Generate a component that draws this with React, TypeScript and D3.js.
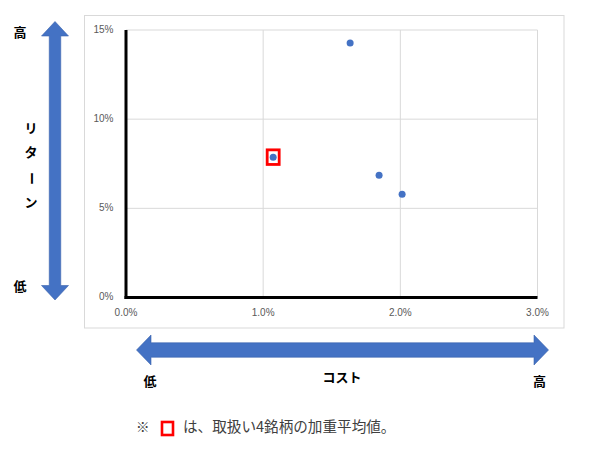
import * as d3 from "d3";

// Cost (%) and return (%) of the individual funds
const costs = [1.634, 1.845, 2.013];
const returns = [14.27, 6.85, 5.79];
// Weighted average of the 4 funds
const avgCost = [1.073];
const avgReturn = [7.87];

const xTicks = [0, 1, 2, 3];
const yTicks = [0, 5, 10, 15];

const W = 612;
const H = 473;
const JP = "'Noto Sans CJK JP', 'Noto Sans', sans-serif";
const BLUE = "#4472C4";

// double-headed block arrow along the x direction
function arrowPath(x1: number, x2: number, cy: number, shaft: number, head: number, headLen: number) {
  const p = d3.path();
  p.moveTo(x1, cy);
  p.lineTo(x1 + headLen, cy - head / 2);
  p.lineTo(x1 + headLen, cy - shaft / 2);
  p.lineTo(x2 - headLen, cy - shaft / 2);
  p.lineTo(x2 - headLen, cy - head / 2);
  p.lineTo(x2, cy);
  p.lineTo(x2 - headLen, cy + head / 2);
  p.lineTo(x2 - headLen, cy + shaft / 2);
  p.lineTo(x1 + headLen, cy + shaft / 2);
  p.lineTo(x1 + headLen, cy + head / 2);
  p.closePath();
  return p.toString();
}

export default function App() {
  const x = d3.scaleLinear().domain([0, 3]).range([126, 537.5]);
  const y = d3.scaleLinear().domain([0, 15]).range([297.5, 30]);
  const pts = costs.map((c, i) => ({ c, r: returns[i] }));

  return (
    <svg
      width={W}
      height={H}
      style={{ position: "absolute", left: 0, top: 0, background: "#fff" }}
    >
      {/* chart box */}
      <rect x={84.5} y={15.5} width={479.5} height={312.5} fill="#fff" stroke="#d9d9d9" />

      {/* grid */}
      {xTicks.map((t) => (
        <line key={"gx" + t} x1={x(t)} x2={x(t)} y1={y(15)} y2={y(0)} stroke="#d9d9d9" />
      ))}
      {yTicks.map((t) => (
        <line key={"gy" + t} x1={x(0)} x2={x(3)} y1={y(t)} y2={y(t)} stroke="#d9d9d9" />
      ))}

      {/* axes */}
      <line x1={x(0)} x2={x(0)} y1={y(15)} y2={y(0) + 1.5} stroke="#000" strokeWidth={3} />
      <line x1={x(0) - 1.5} x2={x(3)} y1={y(0)} y2={y(0)} stroke="#000" strokeWidth={3} />

      {/* tick labels */}
      {yTicks.map((t) => (
        <text
          key={"ty" + t}
          x={113.5}
          y={y(t)}
          textAnchor="end"
          dominantBaseline="middle"
          fontFamily="'Liberation Sans', sans-serif"
          fontSize={10}
          fill="#595959"
        >
          {t}%
        </text>
      ))}
      {xTicks.map((t) => (
        <text
          key={"tx" + t}
          x={x(t)}
          y={313}
          textAnchor="middle"
          dominantBaseline="middle"
          fontFamily="'Liberation Sans', sans-serif"
          fontSize={10}
          fill="#595959"
        >
          {t.toFixed(1)}%
        </text>
      ))}

      {/* points */}
      {pts.map((d, i) => (
        <circle key={i} cx={x(d.c)} cy={y(d.r)} r={3.5} fill={BLUE} />
      ))}
      {avgCost.map((c, i) => (
        <g key={"a" + i}>
          <circle cx={x(c)} cy={y(avgReturn[i])} r={3.5} fill={BLUE} />
          <rect
            x={x(c) - 6}
            y={y(avgReturn[i]) - 7.3}
            width={12}
            height={14.6}
            fill="none"
            stroke="#ff0000"
            strokeWidth={2.8}
          />
        </g>
      ))}

      {/* vertical arrow (return) */}
      <g transform="translate(55,0) rotate(90)">
        <path d={arrowPath(21.5, 300, 0, 11.5, 27, 14.5)} fill={BLUE} stroke="#3a63ad" strokeWidth={0.6} />
      </g>
      <text x={20} y={33} textAnchor="middle" dominantBaseline="middle" fontFamily={JP} fontWeight={700} fontSize={13}>
        高
      </text>
      <text x={20} y={287} textAnchor="middle" dominantBaseline="middle" fontFamily={JP} fontWeight={700} fontSize={13}>
        低
      </text>
      {["リ", "タ", "ー", "ン"].map((ch, i) => (
        <text
          key={ch}
          x={31}
          y={129 + i * 24.7}
          textAnchor="middle"
          dominantBaseline="middle"
          fontFamily={JP}
          fontWeight={700}
          fontSize={13}
          transform={ch === "ー" ? `rotate(90,31,${129 + i * 24.7})` : undefined}
        >
          {ch}
        </text>
      ))}

      {/* horizontal arrow (cost) */}
      <path d={arrowPath(136.5, 548.5, 350, 14.5, 30, 14.5)} fill={BLUE} stroke="#3a63ad" strokeWidth={0.6} />
      <text x={150} y={382} textAnchor="middle" dominantBaseline="middle" fontFamily={JP} fontWeight={700} fontSize={13}>
        低
      </text>
      <text x={342} y={378} textAnchor="middle" dominantBaseline="middle" fontFamily={JP} fontWeight={700} fontSize={13}>
        コスト
      </text>
      <text x={539.5} y={382} textAnchor="middle" dominantBaseline="middle" fontFamily={JP} fontWeight={700} fontSize={13}>
        高
      </text>

      {/* footnote */}
      <text x={136} y={428} dominantBaseline="middle" fontFamily={JP} fontSize={13.5} fill="#404040">
        ※
      </text>
      <rect x={162} y={422} width={11} height={13} fill="none" stroke="#ff0000" strokeWidth={2.6} />
      <text x={183} y={428} dominantBaseline="middle" fontFamily={JP} fontSize={14.6} fill="#404040">
        は、取扱い4銘柄の加重平均値。
      </text>
    </svg>
  );
}
